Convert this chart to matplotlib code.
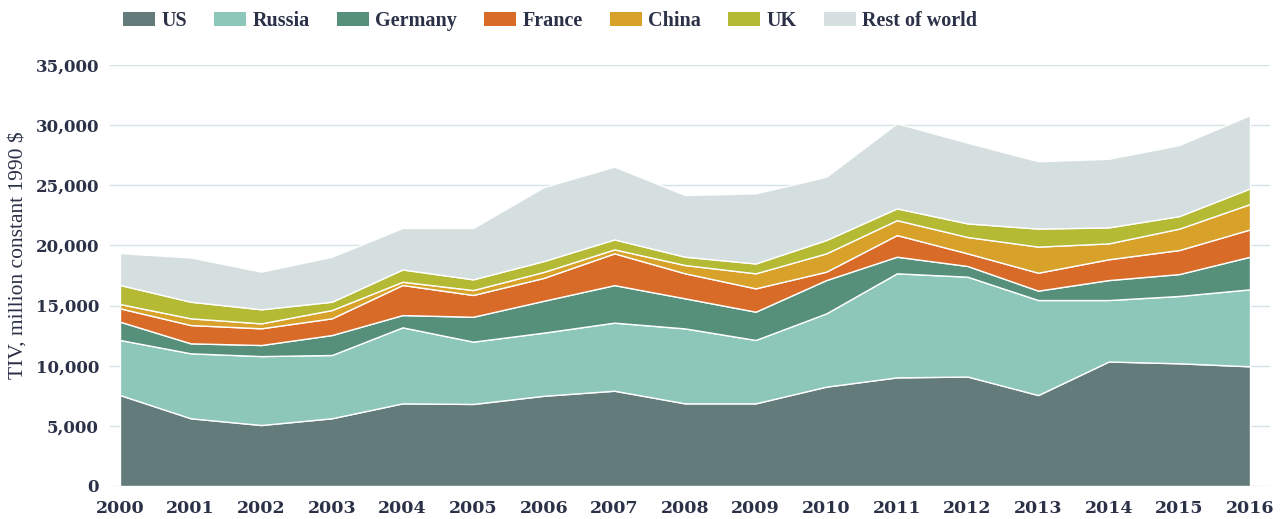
import matplotlib
matplotlib.use('Agg')
import matplotlib.pyplot as plt
from matplotlib.patches import Patch
from matplotlib.ticker import FuncFormatter

years = list(range(2000, 2017))

# TIV, million constant 1990 $
us = [7560, 5630, 5070, 5630, 6870, 6820, 7500, 7920, 6870, 6870,
      8260, 9030, 9100, 7560, 10350, 10200, 9950]
russia = [4580, 5400, 5730, 5260, 6320, 5180, 5250, 5660, 6230, 5270,
          6090, 8650, 8300, 7900, 5110, 5600, 6400]
germany = [1520, 830, 920, 1660, 1020, 2070, 2650, 3120, 2500, 2350,
           2770, 1380, 890, 780, 1660, 1820, 2710]
france = [1110, 1520, 1390, 1390, 2500, 1810, 1900, 2640, 2080, 1940,
          700, 1800, 1050, 1490, 1730, 2000, 2270]
china = [360, 560, 410, 690, 270, 410, 500, 330, 690, 1250,
         1520, 1240, 1360, 2170, 1320, 1780, 2110]
uk = [1580, 1380, 1170, 690, 1020, 890, 900, 830, 690, 820,
      1110, 980, 1130, 1500, 1330, 1040, 1300]
rest = [2650, 3680, 3130, 3740, 3450, 4270, 6150, 6050, 5130, 5830,
        5260, 7070, 6710, 5600, 5700, 5910, 6100]

labels = ['US', 'Russia', 'Germany', 'France', 'China', 'UK', 'Rest of world']
colors = ['#637b7b', '#8cc7b9', '#56907a', '#d96b29', '#d8a22a', '#b4ba33', '#d5dfdf']
text_color = '#2b3147'

fig = plt.figure(figsize=(12.87, 5.19), dpi=100)
ax = fig.add_axes([110 / 1287, 33 / 519, 1160 / 1287, 421 / 519])

ax.stackplot(years, us, russia, germany, france, china, uk, rest,
             colors=colors, edgecolor='white', linewidth=1.0, zorder=2)

ax.set_xlim(2000 - 10 / 70.625, 2016 + 20 / 70.625)
ax.set_ylim(0, 35000)
ax.set_yticks(range(0, 35001, 5000))
ax.set_xticks(years)
ax.yaxis.set_major_formatter(FuncFormatter(lambda v, p: f'{int(v):,}'))
ax.grid(axis='y', color='#d3e3e6', linewidth=1.0, zorder=0)
ax.set_axisbelow(True)
for s in ax.spines.values():
    s.set_visible(False)
ax.tick_params(axis='both', length=0, colors=text_color)
ax.tick_params(axis='y', pad=8)
ax.tick_params(axis='x', pad=10)
for lab in ax.get_xticklabels():
    lab.set_fontfamily('DejaVu Serif')
    lab.set_fontweight('bold')
    lab.set_fontsize(12.5)
for lab in ax.get_yticklabels():
    lab.set_fontfamily('DejaVu Serif')
    lab.set_fontweight('bold')
    lab.set_fontsize(12)

fig.text(18 / 1287, 1 - 255 / 519, 'TIV, million constant 1990 $',
         family='Liberation Serif', fontsize=15.5, color=text_color,
         rotation=90, ha='center', va='center')

handles = [Patch(facecolor=c, edgecolor='none') for c in colors]
fig.legend(handles, labels, loc='center left', bbox_to_anchor=(123 / 1287, 1 - 21 / 519),
           ncol=7, frameon=False, handlelength=1.6, handleheight=0.7,
           handletextpad=0.3, columnspacing=1.35, borderpad=0, borderaxespad=0,
           prop={'family': 'Liberation Serif', 'weight': 'bold', 'size': 14.5},
           labelcolor=text_color)

fig.savefig('out.png', dpi=100)
